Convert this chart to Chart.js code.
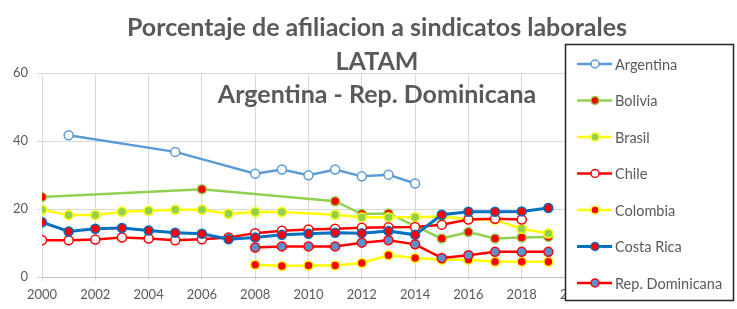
<!DOCTYPE html>
<html>
<head>
<meta charset="utf-8">
<script src="https://cdn.jsdelivr.net/npm/chart.js@4/dist/chart.umd.min.js"></script>
<style>
  body { margin: 0; background: #fff; }
  #wrap { width: 737px; height: 309px; }
</style>
</head>
<body>
<div id="wrap"><canvas id="sindicatosChart" width="737" height="309"></canvas></div>
<script>
// años del eje x
const years = [2000, 2001, 2002, 2003, 2004, 2005, 2006, 2007, 2008, 2009,
               2010, 2011, 2012, 2013, 2014, 2015, 2016, 2017, 2018, 2019];

// series (null = sin dato, la linea lo salta)
const argentina = [null, 41.7, null, null, null, 36.8, null, null, 30.4, 31.6,
                   29.9, 31.6, 29.6, 30.1, 27.5, null, null, null, null, null];
const bolivia   = [23.5, null, null, null, null, null, 25.8, null, null, null,
                   null, 22.3, 18.5, 18.7, null, 11.3, 13.2, 11.3, 11.6, 11.8];
const brasil    = [19.8, 18.2, 18.2, 19.2, 19.5, 19.8, 19.8, 18.6, 19.1, 19.1,
                   null, 18.3, 17.6, 17.6, 17.6, 17.8, 17.0, 16.8, 14.2, 12.8];
const chile     = [10.8, 10.8, 11.0, 11.6, 11.3, 10.8, 11.1, 11.6, 12.9, 13.6,
                   14.0, 14.2, 14.5, 14.6, 14.7, 15.4, 16.9, 17.1, 16.9, null];
const colombia  = [null, null, null, null, null, null, null, null, 3.6, 3.2,
                   3.4, 3.4, 4.1, 6.4, 5.6, 5.1, 5.1, 4.5, 4.5, 4.5];
const costaRica = [16.1, 13.4, 14.2, 14.4, 13.7, 13.0, 12.7, 11.1, 11.6, 12.4,
                   12.7, 13.0, 12.9, 13.5, 12.4, 18.3, 19.2, 19.2, 19.3, 20.3];
const repDom    = [null, null, null, null, null, null, null, null, 8.7, 9.0,
                   9.0, 9.0, 10.1, 10.8, 9.6, 5.6, 6.4, 7.4, 7.4, 7.4];

// ticks
const yTicks = [0, 20, 40, 60];
const xTicks = [2000, 2002, 2004, 2006, 2008, 2010, 2012, 2014, 2016, 2018, 2020];

const titleLines = ['Porcentaje de afiliacion a sindicatos laborales', 'LATAM', 'Argentina - Rep. Dominicana'];

const GREY_TEXT = '#595959';
const FONT = 'Lato, "Open Sans", sans-serif';

function toPoints(vals) {
  return years.map((yr, i) => ({ x: yr, y: vals[i] }));
}

function serie(label, vals, line, fill, border, width, order) {
  return {
    label: label,
    data: toPoints(vals),
    borderColor: line,
    backgroundColor: line,
    borderWidth: width,
    pointRadius: 4.5,
    pointBackgroundColor: fill,
    pointBorderColor: border,
    pointBorderWidth: 1.5,
    tension: 0,
    spanGaps: true,
    order: order
  };
}

// titulo superpuesto al area del grafico (como en Excel)
const overlayTitle = {
  id: 'overlayTitle',
  afterDraw(chart) {
    const c = chart.ctx;
    c.save();
    c.fillStyle = GREY_TEXT;
    c.font = 'bold 25px ' + FONT;
    c.textAlign = 'center';
    c.textBaseline = 'middle';
    const ys = [28, 62, 95];
    titleLines.forEach((t, i) => c.fillText(t, 377, ys[i]));
    c.restore();
  }
};

// leyenda en recuadro a la derecha, encima del area del grafico
const boxLegend = {
  id: 'boxLegend',
  afterDraw(chart) {
    const c = chart.ctx;
    const left = 565.5, top = 44.5, w = 168, h = 256;
    c.save();
    c.fillStyle = '#fff';
    c.fillRect(left, top, w, h);
    c.strokeStyle = '#262626';
    c.lineWidth = 1.5;
    c.strokeRect(left, top, w, h);
    chart.data.datasets.forEach((ds, i) => {
      const y = 64 + i * 36.5;
      c.strokeStyle = ds.borderColor;
      c.lineWidth = ds.borderWidth;
      c.beginPath();
      c.moveTo(577, y);
      c.lineTo(612, y);
      c.stroke();
      c.beginPath();
      c.arc(595, y, 4, 0, Math.PI * 2);
      c.fillStyle = ds.pointBackgroundColor;
      c.fill();
      c.lineWidth = 1.5;
      c.strokeStyle = ds.pointBorderColor;
      c.stroke();
      c.fillStyle = GREY_TEXT;
      c.font = '14.5px ' + FONT;
      c.textAlign = 'left';
      c.textBaseline = 'middle';
      c.fillText(ds.label, 615, y + 1);
    });
    c.restore();
  }
};

const ctx = document.getElementById('sindicatosChart');
new Chart(ctx, {
  type: 'line',
  data: {
    datasets: [
      serie('Argentina', argentina, '#5B9BD5', '#FFFFFF', '#5B9BD5', 2.5, 6),
      serie('Bolivia', bolivia, '#92D050', '#FF0000', '#92D050', 2.5, 5),
      serie('Brasil', brasil, '#FFFF00', '#92D050', '#FFFF00', 2.5, 4),
      serie('Chile', chile, '#FF0000', '#FFFFFF', '#FF0000', 2.5, 3),
      serie('Colombia', colombia, '#FFFF00', '#FF0000', '#FFFF00', 2.5, 2),
      serie('Costa Rica', costaRica, '#0070C0', '#FF0000', '#0070C0', 3, 1),
      serie('Rep. Dominicana', repDom, '#FF0000', '#5B8FCF', '#FF0000', 2.5, 0)
    ]
  },
  options: {
    responsive: false,
    animation: false,
    devicePixelRatio: 1,
    layout: { padding: { top: 73, right: 162, left: 0, bottom: 0 } },
    plugins: {
      legend: { display: false },
      title: { display: false },
      tooltip: { enabled: false }
    },
    scales: {
      x: {
        type: 'linear',
        min: 2000,
        max: 2020,
        afterFit: (scale) => { scale.height = 32; },
        afterBuildTicks: (scale) => { scale.ticks = xTicks.map(v => ({ value: v })); },
        grid: { color: '#D9D9D9', tickLength: 4 },
        border: { color: '#BFBFBF' },
        ticks: {
          color: GREY_TEXT,
          font: { family: FONT, size: 13 },
          padding: 6,
          maxRotation: 0,
          callback: (v) => String(v)
        }
      },
      y: {
        min: 0,
        max: 60,
        afterFit: (scale) => { scale.width = 42; },
        afterBuildTicks: (scale) => { scale.ticks = yTicks.map(v => ({ value: v })); },
        grid: { color: '#D9D9D9', tickLength: 5 },
        border: { color: '#D9D9D9' },
        ticks: {
          color: GREY_TEXT,
          font: { family: FONT, size: 13 },
          padding: 9
        }
      }
    }
  },
  plugins: [overlayTitle, boxLegend]
});
</script>
</body>
</html>
